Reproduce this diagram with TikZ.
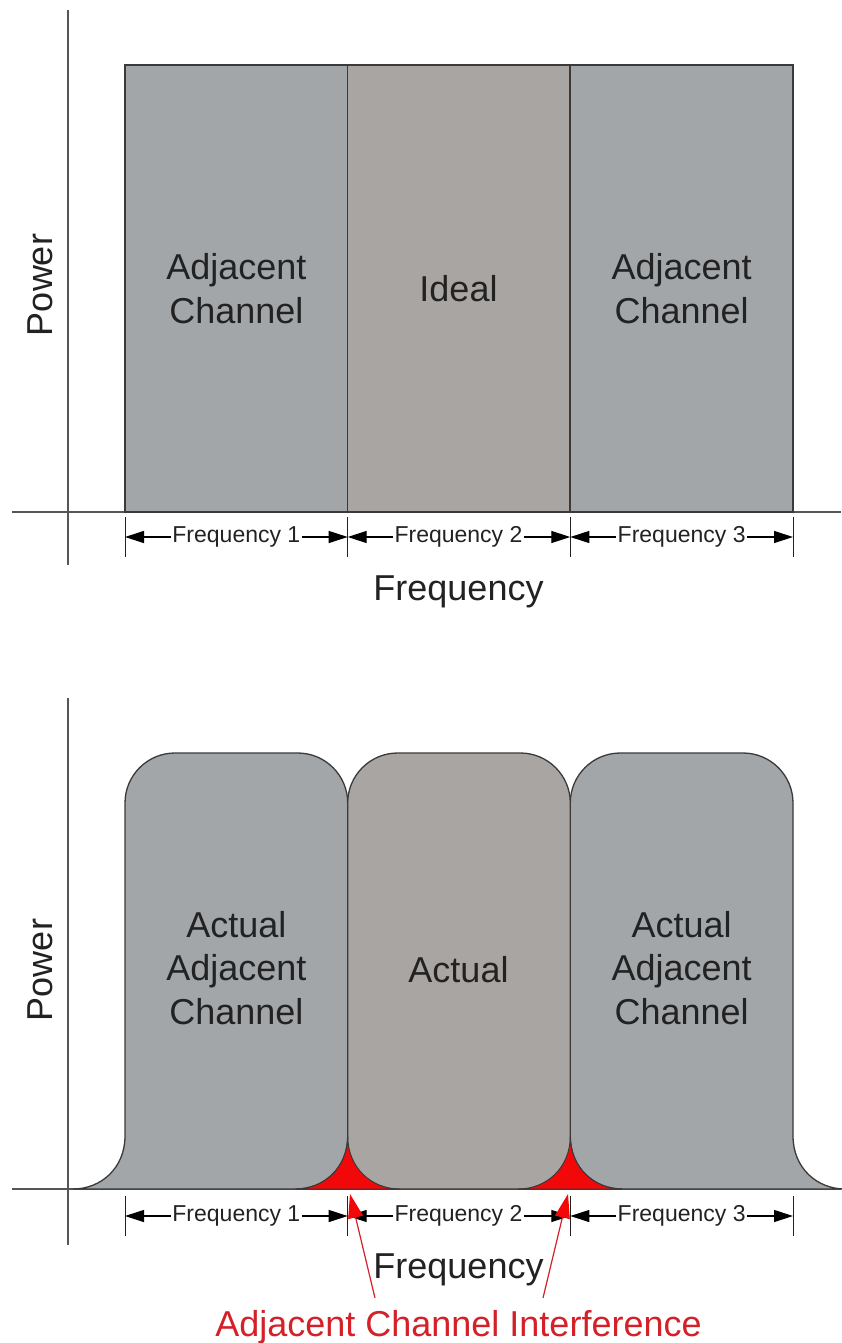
\documentclass[tikz,border=0pt]{standalone}
\usepackage{fontspec}
\setmainfont{Liberation Sans}
\usetikzlibrary{arrows.meta}
\definecolor{sidegray}{HTML}{A3A6A9}
\definecolor{midgray}{HTML}{A9A5A2}
\definecolor{outl}{HTML}{3A3A3A}
\definecolor{axisc}{HTML}{555555}
\definecolor{txt}{HTML}{222222}
\definecolor{aciRed}{HTML}{D42029}
\definecolor{cuspRed}{HTML}{F20808}
\newcommand{\chanshape}[3]{%
  \path[chan, fill=#3] (#1-52,1189) .. controls (#1-24,1189) and (#1,1168) .. (#1,1136)
    -- (#1,803) .. controls (#1,775.4) and (#1+22.4,753) .. (#1+50,753)
    -- (#2-50,753) .. controls (#2-22.4,753) and (#2,775.4) .. (#2,803)
    -- (#2,1136) .. controls (#2,1168) and (#2+24,1189) .. (#2+52,1189) -- cycle;}
\begin{document}
\begin{tikzpicture}[x=1pt,y=-1pt,
  axis/.style={draw=axisc, line width=1.3pt},
  chan/.style={draw=outl, line width=1.3pt},
  box/.style={draw=outl, line width=1.3pt, inner sep=0pt, outer sep=0pt,
    minimum width=222.7pt, minimum height=447pt},
  big/.style={font=\fontsize{36}{43.5}\selectfont, text=txt, align=center, inner sep=0pt},
  small/.style={font=\fontsize{23}{27}\selectfont, text=txt, inner sep=1.5pt},
  dimarr/.style={draw=black, line width=1.2pt, -{Triangle[length=19pt,width=12pt]}},
  tickl/.style={draw=txt, line width=1pt},
  redarr/.style={draw=aciRed, line width=1.2pt, -{Triangle[length=24pt,width=15pt,color=cuspRed]}}]
\fill[white] (0,0) rectangle (841,1343);
\useasboundingbox (0,0) rectangle (841,1343);

% ---------- top panel ----------
\draw[axis] (68,10) -- (68,565);
\draw[axis] (12,512) -- (841,512);
\node[box, fill=sidegray, big] (b1) at (236.35,288.5) {Adjacent\\Channel};
\node[box, fill=midgray, big] (b2) at (458.5,288.5) {Ideal};
\node[box, fill=sidegray, big] (b3) at (681.65,288.5) {Adjacent\\Channel};
\node[big, rotate=90] (pw1) at (40,285) {Power};

\coordinate (ta0) at (125,537);
\coordinate (ta1) at (347.7,537);
\coordinate (ta2) at (570.3,537);
\coordinate (ta3) at (793,537);
\foreach \x in {125,347.7,570.3,793} {\draw[tickl] (\x,517) -- (\x,557);}
\node[small] (fa1) at (236.35,537) {Frequency 1};
\node[small] (fa2) at (458.5,537) {Frequency 2};
\node[small] (fa3) at (681.65,537) {Frequency 3};
\draw[dimarr] (fa1.west) -- (ta0);
\draw[dimarr] (fa1.east) -- (ta1);
\draw[dimarr] (fa2.west) -- (ta1);
\draw[dimarr] (fa2.east) -- (ta2);
\draw[dimarr] (fa3.west) -- (ta2);
\draw[dimarr] (fa3.east) -- (ta3);
\node[big, anchor=base] (fx1) at (458.5,600) {Frequency};

% ---------- bottom panel ----------
\draw[axis] (68,698) -- (68,1245);
\draw[axis] (12,1189) -- (841,1189);
\chanshape{125}{347.7}{sidegray}
\chanshape{570.3}{793}{sidegray}
\chanshape{347.7}{570.3}{midgray}
\path[fill=cuspRed, draw=outl, line width=1pt]
  (295.7,1189) .. controls (323.7,1189) and (347.7,1168) .. (347.7,1136)
  .. controls (347.7,1168) and (371.7,1189) .. (399.7,1189) -- cycle;
\path[fill=cuspRed, draw=outl, line width=1pt]
  (518.3,1189) .. controls (546.3,1189) and (570.3,1168) .. (570.3,1136)
  .. controls (570.3,1168) and (594.3,1189) .. (622.3,1189) -- cycle;
\node[big] (c1) at (236.35,968) {Actual\\Adjacent\\Channel};
\node[big] (c2) at (458.5,970) {Actual};
\node[big] (c3) at (681.65,968) {Actual\\Adjacent\\Channel};
\node[big, rotate=90] (pw2) at (40,970) {Power};

\coordinate (tb0) at (125,1216);
\coordinate (tb1) at (347.7,1216);
\coordinate (tb2) at (570.3,1216);
\coordinate (tb3) at (793,1216);
\foreach \x in {125,347.7,570.3,793} {\draw[tickl] (\x,1196) -- (\x,1236);}
\node[small] (fb1) at (236.35,1216) {Frequency 1};
\node[small] (fb2) at (458.5,1216) {Frequency 2};
\node[small] (fb3) at (681.65,1216) {Frequency 3};
\draw[dimarr] (fb1.west) -- (tb0);
\draw[dimarr] (fb1.east) -- (tb1);
\draw[dimarr] (fb2.west) -- (tb1);
\draw[dimarr] (fb2.east) -- (tb2);
\draw[dimarr] (fb3.west) -- (tb2);
\draw[dimarr] (fb3.east) -- (tb3);
\node[big, anchor=base] (fx2) at (458.5,1278) {Frequency};
\node[big, anchor=base, text=aciRed] (aci) at (458.5,1336) {Adjacent Channel Interference};

\coordinate (rs1) at (375,1298);
\coordinate (re1) at (350,1194);
\coordinate (rs2) at (543,1298);
\coordinate (re2) at (568,1194);
\draw[redarr] (rs1) -- (re1);
\draw[redarr] (rs2) -- (re2);
\end{tikzpicture}
\end{document}
